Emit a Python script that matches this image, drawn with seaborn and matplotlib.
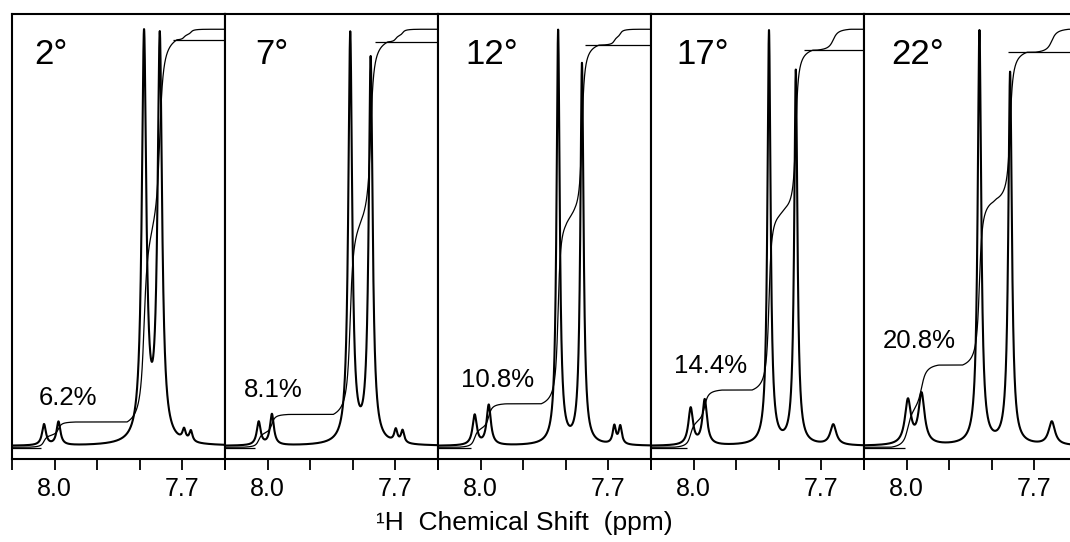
import numpy as np
import pandas as pd
import matplotlib
matplotlib.use("Agg")
import matplotlib.pyplot as plt
import seaborn as sns

# ---------------- data ----------------
temperatures = ["2°", "7°", "12°", "17°", "22°"]
minor_fraction_pct = [6.2, 8.1, 10.8, 14.4, 20.8]

# resonance positions (ppm), heights (% of tallest line) and half widths (ppm)
# order in each panel: two minor lines, two main lines, remaining small line(s)
peak_ppm = [
    [8.025, 7.991, 7.790, 7.753, 7.696, 7.680],
    [8.021, 7.990, 7.806, 7.758, 7.699, 7.683],
    [8.014, 7.981, 7.818, 7.762, 7.686, 7.672],
    [8.007, 7.974, 7.823, 7.760, 7.672],
    [7.997, 7.965, 7.829, 7.757, 7.659],
]
peak_height = [
    [5.0, 5.6, 97.0, 96.5, 2.6, 2.6],
    [5.6, 7.4, 98.0, 92.0, 3.0, 3.0],
    [7.2, 9.6, 99.0, 91.0, 4.3, 4.3],
    [8.8, 10.8, 99.0, 89.5, 4.9],
    [10.5, 12.0, 99.0, 89.0, 5.6],
]
peak_hwhm = [
    [0.0055, 0.0055, 0.0063, 0.0063, 0.0045, 0.0045],
    [0.0055, 0.0055, 0.0055, 0.0055, 0.0045, 0.0045],
    [0.0060, 0.0060, 0.0045, 0.0045, 0.0045, 0.0045],
    [0.0065, 0.0065, 0.0045, 0.0045, 0.0085],
    [0.0085, 0.0085, 0.0050, 0.0050, 0.0090],
]
# integral levels (same units): after the two main lines, and at the right end
integral_plateau = [97.4, 96.9, 96.2, 95.0, 94.5]
integral_final = [100.0, 100.0, 100.0, 100.0, 100.0]
# where the plateau reference line begins (ppm)
plateau_line_start = [7.722, 7.748, 7.755, 7.741, 7.762]

tick_ppm = [8.1, 8.0, 7.9, 7.8, 7.7, 7.6]
tick_labels = ["", "8.0", "", "", "7.7", ""]
x_label = "\u00b9H  Chemical Shift  (ppm)"

# ---------------- styling ----------------
sns.set_theme(style="white", rc={
    "axes.edgecolor": "black", "text.color": "black",
    "xtick.color": "black", "axes.labelcolor": "black",
})
plt.rcParams["font.family"] = ["Liberation Sans", "DejaVu Sans"]

W, H = 1070, 542
fig = plt.figure(figsize=(W / 100, H / 100), dpi=100)
fig.patch.set_facecolor("white")

ppm = np.linspace(8.10, 7.60, 3001)
panel_left_px = 12
panel_w_px = 213
ax_bottom = (H - 459) / H
ax_height = (459 - 14) / H

temp_x = [0.105, 0.140, 0.130, 0.120, 0.130]
pct_x = [8.037, 8.055, 8.046, 8.046, 8.055]


def cumulative_area(x, p, h, g, half_window=0.04):
    """area of one line accumulated from the left (high ppm) edge up to x"""
    t = np.clip(x - p, -half_window, half_window)
    return h * g * (np.arctan(half_window / g) - np.arctan(t / g))


for i in range(5):
    ax = fig.add_axes([(panel_left_px + panel_w_px * i) / W, ax_bottom,
                       panel_w_px / W, ax_height])
    pos = np.array(peak_ppm[i])
    hgt = np.array(peak_height[i])
    gam = np.array(peak_hwhm[i])
    spec = np.zeros_like(ppm)
    for p, h, g in zip(pos, hgt, gam):
        spec += h / (1.0 + ((ppm - p) / g) ** 2)

    # integral trace: each group of lines scaled to the reported levels
    L2 = integral_plateau[i]
    L1 = minor_fraction_pct[i] / 100.0 * L2
    L3 = integral_final[i]
    groups = [(slice(0, 2), L1), (slice(2, 4), L2 - L1), (slice(4, None), L3 - L2)]
    integ = np.zeros_like(ppm)
    for sl, level in groups:
        c = sum(cumulative_area(ppm, p, h, g) for p, h, g in zip(pos[sl], hgt[sl], gam[sl]))
        integ += level * c / c[-1]

    df = pd.DataFrame({"ppm": ppm, "intensity": spec, "integral": integ - 0.3})
    sns.lineplot(data=df, x="ppm", y="intensity", ax=ax, color="black",
                 lw=1.5, sort=False, estimator=None)
    sns.lineplot(data=df, x="ppm", y="integral", ax=ax, color="black",
                 lw=0.9, sort=False, estimator=None)
    # integral reference lines
    ax.hlines(-0.4, 8.10, pos[0] + 0.008, color="black", lw=0.9)
    ax.hlines(L2 - 0.3, plateau_line_start[i], 7.60, color="black", lw=0.9)

    ax.set_xlim(8.1002, 7.5998)
    ax.set_ylim(-3.11, 103.35)
    ax.set_yticks([])
    ax.set_xticks(tick_ppm)
    ax.set_xticklabels(tick_labels)
    ax.tick_params(axis="x", direction="out", length=8, width=1.3, pad=5,
                   labelsize=18, bottom=True)
    ax.set_xlabel("")
    ax.set_ylabel("")
    for s in ax.spines.values():
        s.set_linewidth(1.5)
        s.set_color("black")
    ax.set_facecolor("white")

    ax.text(temp_x[i], (459 - 64) / (459 - 14), temperatures[i],
            transform=ax.transAxes, fontsize=25, ha="left", va="baseline")
    ax.text(pct_x[i], L1 + 3.8, f"{minor_fraction_pct[i]}%",
            fontsize=18.5, ha="left", va="baseline")

fig.text(524 / W, (H - 530) / H, x_label, ha="center", va="baseline", fontsize=19)

fig.savefig("out.png", dpi=100, facecolor="white")
